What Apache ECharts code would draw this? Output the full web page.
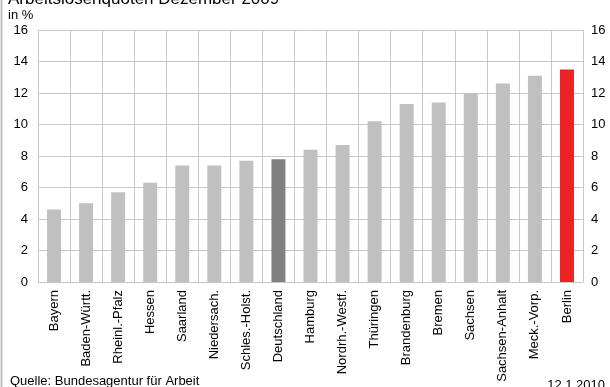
<!DOCTYPE html>
<html>
<head>
<meta charset="utf-8">
<script src="https://cdn.jsdelivr.net/npm/echarts@6/dist/echarts.min.js"></script>
<style>
  html, body { margin: 0; padding: 0; background: #fff; }
  #chart { width: 610px; height: 387px; }
</style>
</head>
<body>
<div id="chart"></div>
<script>
// Arbeitslosenquoten Dezember 2009, in %
const laender = ['Bayern', 'Baden-Württ.', 'Rheinl.-Pfalz', 'Hessen', 'Saarland', 'Niedersach.',
  'Schles.-Holst.', 'Deutschland', 'Hamburg', 'Nordrh.-Westf.', 'Thüringen', 'Brandenburg',
  'Bremen', 'Sachsen', 'Sachsen-Anhalt', 'Meck.-Vorp.', 'Berlin']
const quoten = [4.6, 5.0, 5.7, 6.3, 7.4, 7.4, 7.7, 7.8, 8.4, 8.7, 10.2, 11.3, 11.4, 12.0, 12.6, 13.1, 13.5]
const yTicks = [0, 2, 4, 6, 8, 10, 12, 14, 16]

const font = 'Liberation Sans, Arial, sans-serif'
const gridColor = '#c8c8c8'

function barColor(name) {
  if (name === 'Deutschland') return '#808080'
  if (name === 'Berlin') return '#ee2224'
  return '#c0c0c0'
}

const myChart = echarts.init(document.getElementById('chart'))

const yAxisBase = {
  type: 'value',
  min: yTicks[0],
  max: yTicks[yTicks.length - 1],
  interval: yTicks[1] - yTicks[0],
  axisLine: { show: false },
  axisTick: { show: false },
  axisLabel: { color: '#000', fontFamily: font, fontSize: 13 }
}

const option = {
  animation: false,
  textStyle: { fontFamily: font },
  graphic: [
    {
      type: 'text', left: 8, top: -9,
      style: { text: 'Arbeitslosenquoten Dezember 2009', fontSize: 17, fontFamily: font, fill: '#000' }
    },
    {
      type: 'text', left: 8, top: 9,
      style: { text: 'in %', fontSize: 13, fontFamily: font, fill: '#000' }
    },
    {
      type: 'text', left: 10, top: 375,
      style: { text: 'Quelle: Bundesagentur für Arbeit', fontSize: 13, fontFamily: font, fill: '#000' }
    },
    {
      type: 'text', right: 5, top: 379,
      style: { text: '12.1.2010', fontSize: 13, fontFamily: font, fill: '#000' }
    },
    {
      type: 'line',
      shape: { x1: 1.5, y1: 0, x2: 1.5, y2: 387 },
      style: { stroke: '#c0c0c0', lineWidth: 2 }
    }
  ],
  grid: { left: 38, right: 27, top: 30, bottom: 105 },
  xAxis: {
    type: 'category',
    data: laender,
    axisLine: { lineStyle: { color: gridColor } },
    axisTick: { show: false },
    splitLine: { show: true, lineStyle: { color: gridColor } },
    axisLabel: { rotate: 90, interval: 0, margin: 8, color: '#000', fontFamily: font, fontSize: 13 }
  },
  yAxis: [
    Object.assign({}, yAxisBase, {
      position: 'left',
      splitLine: { lineStyle: { color: gridColor } },
      axisLabel: Object.assign({}, yAxisBase.axisLabel, { margin: 10 })
    }),
    Object.assign({}, yAxisBase, {
      position: 'right',
      splitLine: { show: false },
      axisLabel: Object.assign({}, yAxisBase.axisLabel, { margin: 8 })
    })
  ],
  series: [
    {
      type: 'bar',
      barWidth: 14,
      data: quoten.map((v, i) => ({ value: v, itemStyle: { color: barColor(laender[i]) } }))
    }
  ]
}

myChart.setOption(option)
</script>
</body>
</html>
